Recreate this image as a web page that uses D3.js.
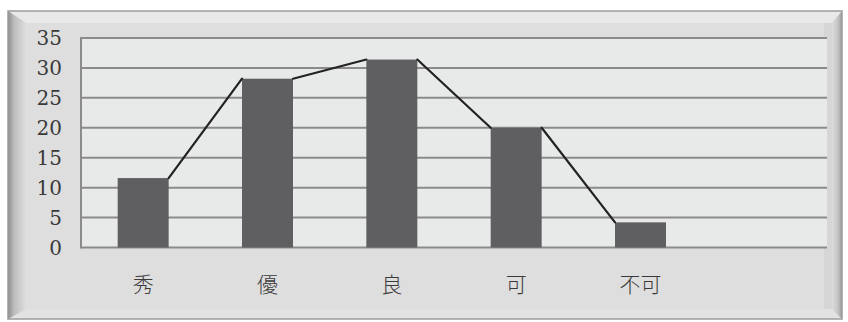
<!DOCTYPE html>
<html><head><meta charset="utf-8">
<script src="https://cdn.jsdelivr.net/npm/d3@7"></script>
<style>body{margin:0;background:#fff}svg{display:block}</style>
</head><body><svg id="c" width="848" height="322"></svg>
<script>
const categories = ["秀","優","良","可","不可",""];
const values = [11.6, 28.2, 31.4, 20, 4.2];
const yTicks = [0,5,10,15,20,25,30,35];

const svg = d3.select("#c");
// frame
const fx0=8, fy0=11, fx1=842, fy1=319, b=14;
const defs = svg.append("defs");
const gl = defs.append("linearGradient").attr("id","gl").attr("x1",0).attr("x2",1);
gl.append("stop").attr("offset",0).attr("stop-color","#8e8e8e");
gl.append("stop").attr("offset",0.35).attr("stop-color","#bdbdbd");
gl.append("stop").attr("offset",1).attr("stop-color","#dedede");
const gr = defs.append("linearGradient").attr("id","gr").attr("x1",0).attr("x2",1);
gr.append("stop").attr("offset",0).attr("stop-color","#dcdcdc");
gr.append("stop").attr("offset",0.6).attr("stop-color","#c4c4c4");
gr.append("stop").attr("offset",1).attr("stop-color","#9a9a9a");
svg.append("rect").attr("x",fx0).attr("y",fy0).attr("width",fx1-fx0).attr("height",fy1-fy0).attr("fill","#d6d6d6");
svg.append("polygon").attr("points",`${fx0},${fy0} ${fx1},${fy0} ${fx1-b+4},${fy0+b-2} ${fx0+b+4},${fy0+b-2}`).attr("fill","#e9e9e9");
svg.append("polygon").attr("points",`${fx0},${fy1} ${fx1},${fy1} ${fx1-b+4},${fy1-b+4} ${fx0+b+4},${fy1-b+4}`).attr("fill","#e2e2e2");
svg.append("polygon").attr("points",`${fx0},${fy0} ${fx0+b+4},${fy0+b-2} ${fx0+b+4},${fy1-b+4} ${fx0},${fy1}`).attr("fill","url(#gl)");
svg.append("polygon").attr("points",`${fx1},${fy0} ${fx1-b+4},${fy0+b-2} ${fx1-b+4},${fy1-b+4} ${fx1},${fy1}`).attr("fill","url(#gr)");
svg.append("rect").attr("x",fx0+b+4).attr("y",fy0+b-2).attr("width",fx1-fx0-2*(b+4)).attr("height",fy1-fy0-2*b+6).attr("fill","#dedede");
svg.append("rect").attr("x",fx0).attr("y",fy0).attr("width",fx1-fx0).attr("height",fy1-fy0).attr("fill","none").attr("stroke","#9c9c9c").attr("stroke-width",1.5);

// plot
const x0=81, x1=827, y0=247.5, y1=38;
const x = d3.scaleBand().domain(categories.map((d,i)=>i)).range([x0,x1]).paddingInner(0.59).paddingOuter(0.295);
const y = d3.scaleLinear().domain([0,35]).range([y0,y1]);
svg.append("rect").attr("x",x0).attr("y",y1).attr("width",x1-x0).attr("height",y0-y1).attr("fill","#e8e9e9");
svg.append("g").selectAll("line").data(yTicks).join("line")
  .attr("x1",x0).attr("x2",x1).attr("y1",d=>y(d)).attr("y2",d=>y(d))
  .attr("stroke","#8b8b8b").attr("stroke-width",2);
svg.append("line").attr("x1",x0).attr("x2",x0).attr("y1",y1-1).attr("y2",y0+1).attr("stroke","#8b8b8b").attr("stroke-width",2);

svg.append("g").selectAll("rect").data(values).join("rect")
  .attr("x",(d,i)=>x(i)).attr("width",x.bandwidth())
  .attr("y",d=>y(d)).attr("height",d=>y(0)-y(d))
  .attr("fill","#5f5f61");

const segs = values.slice(0,-1).map((v,i)=>[[x(i)+x.bandwidth(),y(v)],[x(i+1),y(values[i+1])]]);
svg.append("g").selectAll("path").data(segs).join("path")
  .attr("d",d=>d3.line()(d)).attr("fill","none").attr("stroke","#222").attr("stroke-width",2.2).attr("stroke-linecap","round");

svg.append("g").selectAll("text").data(yTicks).join("text")
  .attr("x",62).attr("y",d=>y(d)).attr("dy","0.36em").attr("text-anchor","end")
  .attr("font-family","'DejaVu Serif', 'Liberation Serif', serif").attr("font-size",20).attr("fill","#3a3a3a")
  .text(d=>d);
svg.append("g").selectAll("text").data(categories).join("text")
  .attr("x",(d,i)=>x(i)+x.bandwidth()/2).attr("y",285).attr("dy","0.35em").attr("text-anchor","middle")
  .attr("font-family","'Noto Sans CJK JP', sans-serif").attr("font-weight",300).attr("font-size",21).attr("fill","#3a3a3a")
  .text(d=>d);
</script></body></html>
